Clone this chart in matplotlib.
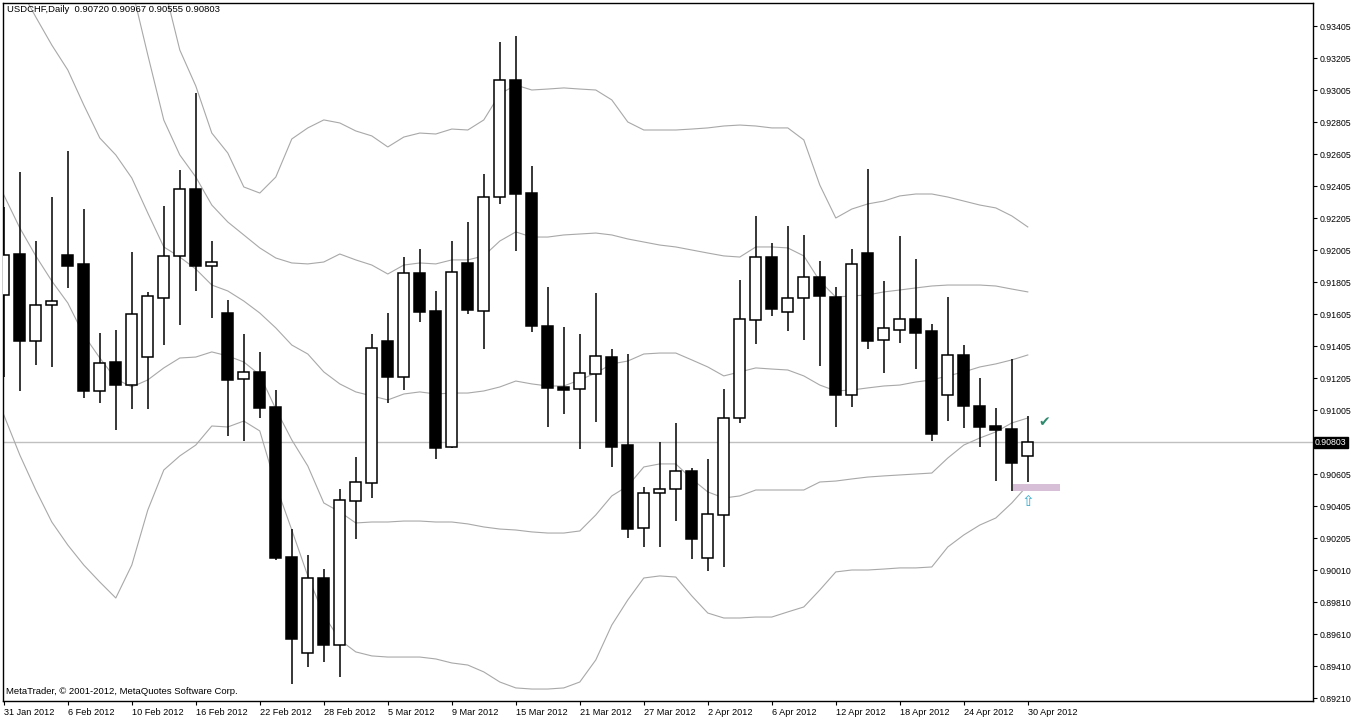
import matplotlib
matplotlib.use("Agg")
import matplotlib.pyplot as plt
import matplotlib.transforms as mtransforms

# USDCHF daily candles, 31 Jan 2012 .. 30 Apr 2012
opens = [0.91724, 0.91980, 0.91436, 0.91661, 0.91974, 0.91918, 0.91124, 0.91305, 0.91161, 0.91336,
         0.91705, 0.91968, 0.92386, 0.91905, 0.91611, 0.91199, 0.91243, 0.91024, 0.90086, 0.89486,
         0.89955, 0.89536, 0.90436, 0.90549, 0.91436, 0.91211, 0.91861, 0.91624, 0.90774, 0.91924,
         0.91624, 0.92336, 0.93068, 0.92361, 0.91530, 0.91149, 0.91136, 0.91230, 0.91336, 0.90786,
         0.90268, 0.90486, 0.90511, 0.90624, 0.90080, 0.90349, 0.90955, 0.91568, 0.91961, 0.91618,
         0.91705, 0.91836, 0.91711, 0.91099, 0.91986, 0.91443, 0.91505, 0.91574, 0.91499, 0.91099,
         0.91349, 0.91030, 0.90905, 0.90886, 0.90720]
highs = [0.92274, 0.92493, 0.92061, 0.92336, 0.92624, 0.92261, 0.91486, 0.91505, 0.91993, 0.91743,
         0.92280, 0.92505, 0.92986, 0.92061, 0.91693, 0.91480, 0.91368, 0.91130, 0.90261, 0.90099,
         0.90011, 0.90511, 0.90711, 0.91480, 0.91611, 0.91961, 0.92011, 0.91749, 0.92061, 0.92180,
         0.92480, 0.93305, 0.93343, 0.92530, 0.91774, 0.91524, 0.91480, 0.91736, 0.91386, 0.91355,
         0.90524, 0.90803, 0.90924, 0.90643, 0.90699, 0.91136, 0.91818, 0.92218, 0.92049, 0.92155,
         0.92099, 0.91936, 0.91774, 0.92011, 0.92511, 0.91811, 0.92093, 0.91949, 0.91543, 0.91711,
         0.91411, 0.91205, 0.91018, 0.91324, 0.90967]
lows = [0.91211, 0.91124, 0.91286, 0.91274, 0.91768, 0.91080, 0.91049, 0.90880, 0.91011, 0.91011,
        0.91411, 0.91536, 0.91749, 0.91580, 0.90843, 0.90811, 0.90955, 0.90068, 0.89293, 0.89399,
        0.89430, 0.89336, 0.90199, 0.90455, 0.91049, 0.91130, 0.91555, 0.90699, 0.90765, 0.91605,
        0.91386, 0.92293, 0.91999, 0.91493, 0.90899, 0.90980, 0.90761, 0.90930, 0.90649, 0.90205,
        0.90149, 0.90149, 0.90311, 0.90074, 0.89999, 0.90024, 0.90924, 0.91418, 0.91593, 0.91499,
        0.91443, 0.91280, 0.90899, 0.91024, 0.91386, 0.91236, 0.91424, 0.91261, 0.90811, 0.90936,
        0.90893, 0.90774, 0.90561, 0.90499, 0.90555]
closes = [0.91974, 0.91436, 0.91661, 0.91686, 0.91905, 0.91124, 0.91299, 0.91161, 0.91605, 0.91718,
          0.91968, 0.92386, 0.91905, 0.91930, 0.91193, 0.91243, 0.91018, 0.90080, 0.89574, 0.89955,
          0.89536, 0.90443, 0.90555, 0.91393, 0.91211, 0.91861, 0.91618, 0.90768, 0.91868, 0.91630,
          0.92336, 0.93068, 0.92355, 0.91530, 0.91143, 0.91130, 0.91236, 0.91343, 0.90774, 0.90261,
          0.90486, 0.90511, 0.90624, 0.90199, 0.90355, 0.90955, 0.91574, 0.91961, 0.91636, 0.91705,
          0.91836, 0.91718, 0.91099, 0.91918, 0.91436, 0.91518, 0.91574, 0.91486, 0.90855, 0.91349,
          0.91030, 0.90899, 0.90880, 0.90674, 0.90803]

# bollinger style envelopes (outer and inner lines)
upper2_start = 9
upper2 = [0.94068, 0.93661, 0.93255, 0.93030, 0.92736, 0.92611, 0.92399, 0.92361, 0.92461, 0.92699,
          0.92768, 0.92818, 0.92799, 0.92749, 0.92718, 0.92649, 0.92711, 0.92736, 0.92730, 0.92761,
          0.92755, 0.92818, 0.92980, 0.93036, 0.93005, 0.93011, 0.93018, 0.93011, 0.93005, 0.92943,
          0.92805, 0.92755, 0.92755, 0.92755, 0.92761, 0.92768, 0.92780, 0.92786, 0.92780, 0.92768,
          0.92768, 0.92693, 0.92411, 0.92205, 0.92261, 0.92293, 0.92311, 0.92343, 0.92355, 0.92355,
          0.92336, 0.92311, 0.92286, 0.92268, 0.92218, 0.92149]
upper1_start = 7
upper1 = [0.94055, 0.93643, 0.93224, 0.92817, 0.92599, 0.92461, 0.92286, 0.92180, 0.92099, 0.92018,
          0.91955, 0.91924, 0.91918, 0.91930, 0.91980, 0.91943, 0.91911, 0.91855, 0.91911, 0.91924,
          0.91918, 0.91943, 0.91943, 0.91968, 0.92061, 0.92118, 0.92086, 0.92086, 0.92099, 0.92105,
          0.92111, 0.92099, 0.92074, 0.92055, 0.92036, 0.92024, 0.92005, 0.91986, 0.91968, 0.91961,
          0.92024, 0.92024, 0.92018, 0.91968, 0.91811, 0.91711, 0.91718, 0.91724, 0.91743, 0.91755,
          0.91768, 0.91780, 0.91786, 0.91786, 0.91786, 0.91780, 0.91761, 0.91743]
middle = [0.93817, 0.93643, 0.93461, 0.93286, 0.93130, 0.92911, 0.92705, 0.92599, 0.92455, 0.92236,
          0.92024, 0.91961, 0.91886, 0.91786, 0.91749, 0.91686, 0.91611, 0.91518, 0.91411, 0.91355,
          0.91243, 0.91168, 0.91118, 0.91093, 0.91068, 0.91105, 0.91118, 0.91105, 0.91111, 0.91111,
          0.91124, 0.91149, 0.91186, 0.91168, 0.91155, 0.91155, 0.91193, 0.91236, 0.91293, 0.91311,
          0.91355, 0.91361, 0.91361, 0.91318, 0.91274, 0.91218, 0.91243, 0.91268, 0.91261, 0.91255,
          0.91218, 0.91161, 0.91124, 0.91130, 0.91143, 0.91155, 0.91161, 0.91180, 0.91193, 0.91218,
          0.91243, 0.91274, 0.91293, 0.91318, 0.91349]
lower1 = [0.92349, 0.92143, 0.91968, 0.91811, 0.91674, 0.91474, 0.91330, 0.91199, 0.91149, 0.91193,
          0.91268, 0.91330, 0.91336, 0.91368, 0.91343, 0.91305, 0.91224, 0.91011, 0.90818, 0.90655,
          0.90424, 0.90368, 0.90299, 0.90305, 0.90305, 0.90311, 0.90311, 0.90305, 0.90305, 0.90293,
          0.90274, 0.90261, 0.90255, 0.90243, 0.90236, 0.90236, 0.90249, 0.90349, 0.90468, 0.90530,
          0.90649, 0.90668, 0.90668, 0.90574, 0.90493, 0.90455, 0.90468, 0.90505, 0.90505, 0.90505,
          0.90505, 0.90555, 0.90561, 0.90574, 0.90586, 0.90593, 0.90599, 0.90605, 0.90611, 0.90705,
          0.90786, 0.90830, 0.90868, 0.90924, 0.90955]
lower2 = [0.90974, 0.90724, 0.90505, 0.90305, 0.90161, 0.90036, 0.89930, 0.89830, 0.90036, 0.90380,
          0.90630, 0.90718, 0.90786, 0.90905, 0.90899, 0.90936, 0.90874, 0.90536, 0.90255, 0.89968,
          0.89724, 0.89568, 0.89493, 0.89468, 0.89461, 0.89461, 0.89461, 0.89449, 0.89424, 0.89411,
          0.89368, 0.89305, 0.89268, 0.89261, 0.89261, 0.89268, 0.89305, 0.89443, 0.89661, 0.89818,
          0.89955, 0.89968, 0.89961, 0.89843, 0.89736, 0.89705, 0.89705, 0.89711, 0.89711, 0.89743,
          0.89774, 0.89880, 0.89993, 0.90005, 0.90005, 0.90011, 0.90018, 0.90018, 0.90024, 0.90149,
          0.90224, 0.90286, 0.90330, 0.90424, 0.90536]

date_ticks = [0, 4, 8, 12, 16, 20, 24, 28, 32, 36, 40, 44, 48, 52, 56, 60, 64]
date_labels = ["31 Jan 2012", "6 Feb 2012", "10 Feb 2012", "16 Feb 2012", "22 Feb 2012",
               "28 Feb 2012", "5 Mar 2012", "9 Mar 2012", "15 Mar 2012", "21 Mar 2012",
               "27 Mar 2012", "2 Apr 2012", "6 Apr 2012", "12 Apr 2012", "18 Apr 2012",
               "24 Apr 2012", "30 Apr 2012"]
price_ticks = [0.93405, 0.93205, 0.93005, 0.92805, 0.92605, 0.92405, 0.92205, 0.92005, 0.91805,
               0.91605, 0.91405, 0.91205, 0.91005, 0.90605, 0.90405, 0.90205, 0.90005, 0.89805,
               0.89605, 0.89405, 0.89205]
price_labels = ["0.93405", "0.93205", "0.93005", "0.92805", "0.92605", "0.92405", "0.92205",
                "0.92005", "0.91805", "0.91605", "0.91405", "0.91205", "0.91005", "0.90605",
                "0.90405", "0.90205", "0.90010", "0.89810", "0.89610", "0.89410", "0.89210"]

bid = 0.90803
zone_bars = (63.05, 66.0)
zone_prices = (0.90499, 0.90542)
check_pos = (65, 0.90930)
arrow_pos = (64, 0.90436)

W, H = 1351, 718
fig = plt.figure(figsize=(W / 100, H / 100), dpi=100)
fig.patch.set_facecolor("white")
ax_l, ax_r, ax_t, ax_b = 3, 1313, 3, 701
ax = fig.add_axes([ax_l / W, 1 - ax_b / H, (ax_r - ax_l) / W, (ax_b - ax_t) / H])
ax.set_facecolor("white")

font = "Liberation Sans"
grey = "#a8a8a8"
fs = 6.3

x = list(range(len(opens)))

# envelope lines
ax.plot(range(upper2_start, upper2_start + len(upper2)), upper2, color=grey, lw=0.8, zorder=1)
ax.plot(range(upper1_start, upper1_start + len(upper1)), upper1, color=grey, lw=0.8, zorder=1)
ax.plot(x, middle, color=grey, lw=0.8, zorder=1)
ax.plot(x, lower1, color=grey, lw=0.8, zorder=1)
ax.plot(x, lower2, color=grey, lw=0.8, zorder=1)

# bid line
ax.axhline(bid, color="#c0c0c0", lw=1, zorder=0.5)

# candles
ax.vlines(x, lows, highs, color="black", lw=1.1, zorder=2)
for i in x:
    o, c = opens[i], closes[i]
    fill = "white" if c >= o else "black"
    bottom = min(o, c)
    ht = max(abs(c - o), 0.00002)
    ax.bar(i, ht, bottom=bottom, width=0.68, color=fill, edgecolor="black",
           linewidth=1.1, zorder=3)

# support zone and markers
ax.fill_between(zone_bars, zone_prices[0], zone_prices[1], color="#d8bfd8", lw=0, zorder=1.5)
ax.text(check_pos[0], check_pos[1], "\u2714", color="#2e8b6e", fontsize=10,
        ha="center", va="center", family=["DejaVu Sans"], zorder=4)
ax.text(arrow_pos[0], arrow_pos[1], "\u21e7", color="#33aacc", fontsize=11,
        ha="center", va="center", family=["DejaVu Sans"], zorder=4)

px = 16.0
ax.set_xlim(-0.05, -0.05 + (ax_r - ax_l) / px)
ax.set_ylim(0.935675 - ax_b / 16000, 0.935675 - ax_t / 16000)

ax.set_xticks(date_ticks)
ax.set_xticklabels(date_labels, ha="left", fontsize=fs + 0.3, family=font)
ax.yaxis.tick_right()
ax.set_yticks(price_ticks)
ax.set_yticklabels(price_labels, fontsize=fs, family=font)
ax.tick_params(axis="x", direction="out", length=3, width=0.8, pad=2)
ax.tick_params(axis="y", direction="out", length=3, width=0.8, pad=1.5)
for s in ax.spines.values():
    s.set_linewidth(1)
    s.set_color("black")

# bid price box on the price scale
trans = mtransforms.blended_transform_factory(ax.transAxes, ax.transData)
ax.text(1.0015, bid, "0.90803", transform=trans, color="white", fontsize=fs, family=font,
        ha="left", va="center", zorder=5, clip_on=False,
        bbox=dict(boxstyle="square,pad=0.12", facecolor="black", edgecolor="black"))

fig.text(7 / W, 1 - 10 / H, "USDCHF,Daily  0.90720 0.90967 0.90555 0.90803",
         fontsize=6.8, family=font, va="center", ha="left")
fig.text(6 / W, 1 - 692 / H, "MetaTrader, \u00a9 2001-2012, MetaQuotes Software Corp.",
         fontsize=6.8, family=font, va="center", ha="left")

fig.savefig("out.png", dpi=100)
